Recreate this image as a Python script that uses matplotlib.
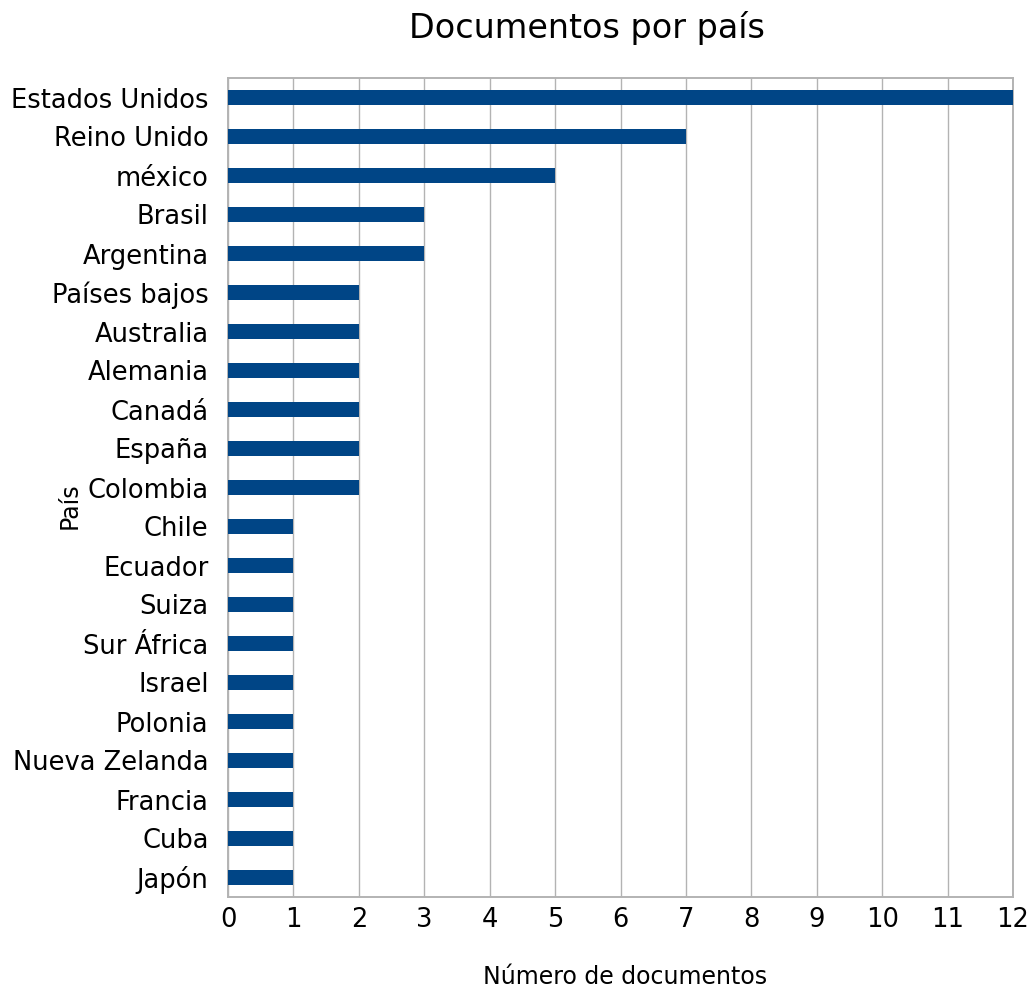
import matplotlib
matplotlib.use('Agg')
import matplotlib.pyplot as plt

# Datos del gráfico
paises = ['Estados Unidos', 'Reino Unido', 'méxico', 'Brasil', 'Argentina',
          'Países bajos', 'Australia', 'Alemania', 'Canadá', 'España',
          'Colombia', 'Chile', 'Ecuador', 'Suiza', 'Sur África', 'Israel',
          'Polonia', 'Nueva Zelanda', 'Francia', 'Cuba', 'Japón']
documentos = [12, 7, 5, 3, 3, 2, 2, 2, 2, 2, 2, 1, 1, 1, 1, 1, 1, 1, 1, 1, 1]

fig = plt.figure(figsize=(10.34, 9.91), dpi=100)
ax = fig.add_axes([228 / 1034, 1 - 897 / 991, (1013 - 228) / 1034, (897 - 78) / 991])

posiciones = list(range(len(paises)))
ax.barh(posiciones, documentos, height=0.41, color='#004586', zorder=3)

ax.set_yticks(posiciones)
ax.set_yticklabels(paises)
ax.set_ylim(len(paises) - 0.5, -0.5)
ax.set_xlim(0, 12)
ax.set_xticks(range(0, 13))

ax.tick_params(axis='y', length=0, labelsize=18.5, pad=14)
ax.tick_params(axis='x', length=0, labelsize=18.5, pad=7)
ax.xaxis.grid(True, color='#b3b3b3', linewidth=1, zorder=0)
for s in ax.spines.values():
    s.set_color('#b3b3b3')
    s.set_linewidth(1.4)

fig.text(587 / 1034, 1 - 28 / 991, 'Documentos por país', fontsize=24,
         ha='center', va='center')
fig.text(625 / 1034, 1 - 977 / 991, 'Número de documentos',
         fontsize=17, ha='center', va='center')
fig.text(70 / 1034, 1 - 506 / 991, 'País', fontsize=17, rotation=90,
         ha='center', va='center')

fig.savefig('out.png', dpi=100)
